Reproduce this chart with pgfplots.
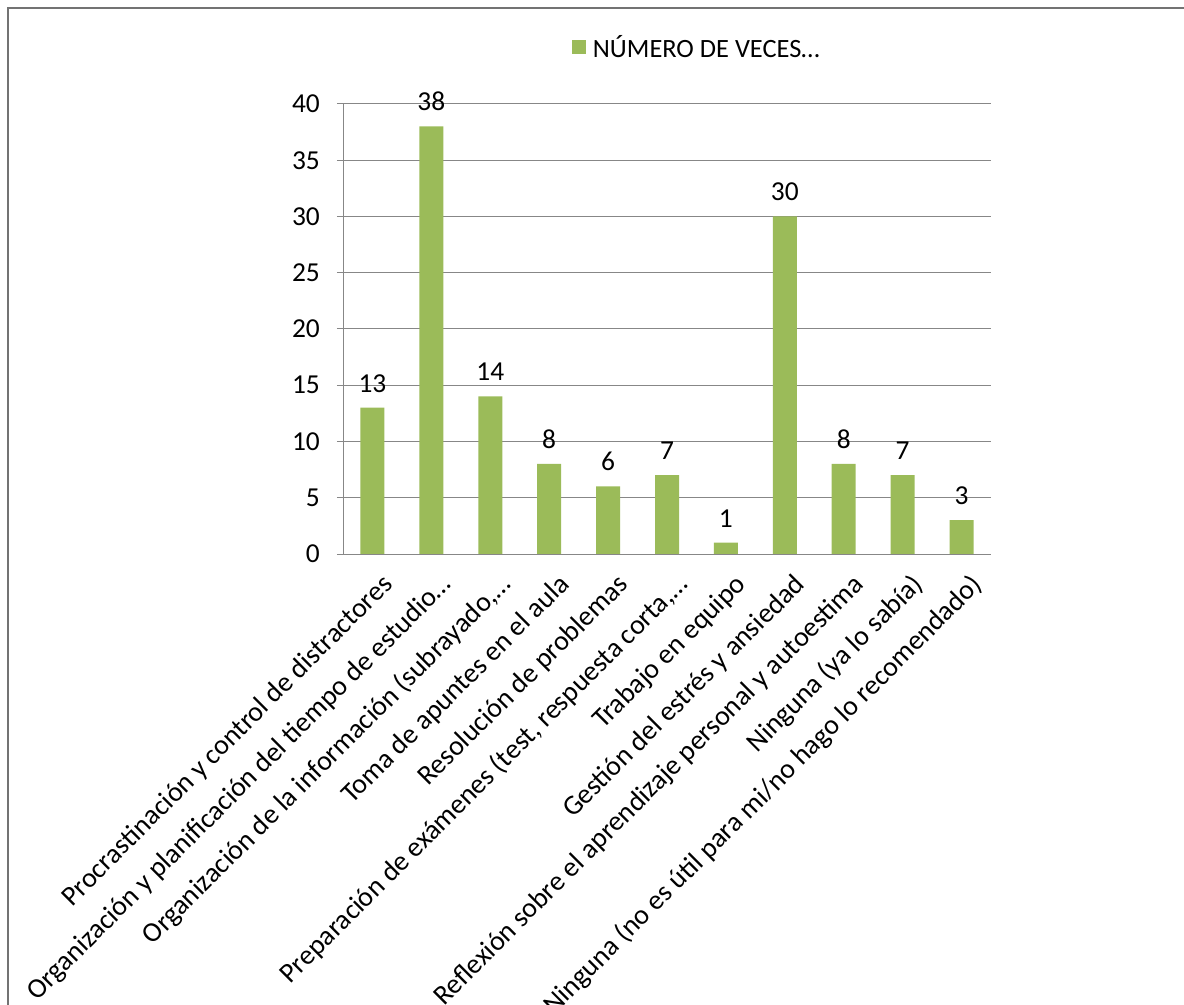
\documentclass[border=0pt]{standalone}
\usepackage{fontspec}
\setmainfont{Carlito}
\usepackage{pgfplots}
\pgfplotsset{compat=1.18}
\definecolor{barg}{HTML}{9BBB59}
\definecolor{gridg}{HTML}{878787}
\begin{document}
\begin{tikzpicture}
\useasboundingbox (0bp,0bp) rectangle (1184bp,1005bp);
\draw[gray!90!black, line width=2.5bp] (8bp,0bp) -- (8bp,997bp) -- (1184bp,997bp);
\begin{axis}[
  at={(343bp,451bp)}, anchor=south west,
  scale only axis, width=648bp, height=450bp,
  xmin=-0.5, xmax=10.5, ymin=0, ymax=40,
  axis x line*=bottom, axis y line*=left,
  axis line style={gridg, line width=1bp, -},
  ytick={0,5,...,40},
  ymajorgrids, grid style={gridg, line width=1bp},
  tick align=outside,
  ytick style={gridg, line width=1bp}, major tick length=6bp,
  xtick={0,...,10},
  xtick style={draw=none},
  extra x ticks={-0.5,0.5,...,10.5},
  extra x tick labels={},
  extra x tick style={major tick length=8bp, tick style={gridg, line width=1bp, draw=gridg}, grid=none},
  xticklabels={Procrastinación y control de distractores,
    Organización y planificación del tiempo de estudio…,
    {Organización de la información (subrayado,…},
    Toma de apuntes en el aula,
    Resolución de problemas,
    {Preparación de exámenes (test, respuesta corta,…},
    Trabajo en equipo,
    Gestión del estrés y ansiedad,
    Reflexión sobre el aprendizaje personal y autoestima,
    Ninguna (ya lo sabía),
    Ninguna (no es útil para mi/no hago lo recomendado)},
  xticklabel style={rotate=45, anchor=east, font=\fontsize{28}{32}\selectfont, inner sep=0pt, xshift=-3bp, yshift=-26bp},
  yticklabel style={font=\fontsize{27.5}{32}\selectfont, inner sep=0pt, xshift=-17bp},
  /pgf/number format/assume math mode=true,
  nodes near coords,
  every node near coord/.append style={font=\fontsize{27.5}{32}\selectfont, yshift=12bp},
  legend style={at={(0.353,1.127)}, anchor=west, draw=none, fill=none, font=\fontsize{26.5}{30}\selectfont, inner sep=0pt},
  legend image code/.code={\fill[barg] (0bp,-7bp) rectangle (14bp,7bp);},
  legend cell align=left,
]
\addplot[ybar, bar width=24bp, fill=barg, draw=none, bar shift=0pt] coordinates {
 (0,13) (1,38) (2,14) (3,8) (4,6) (5,7) (6,1) (7,30) (8,8) (9,7) (10,3)};
\addlegendentry{\hspace{5bp}NÚMERO DE VECES…}
\end{axis}
\end{tikzpicture}
\end{document}
